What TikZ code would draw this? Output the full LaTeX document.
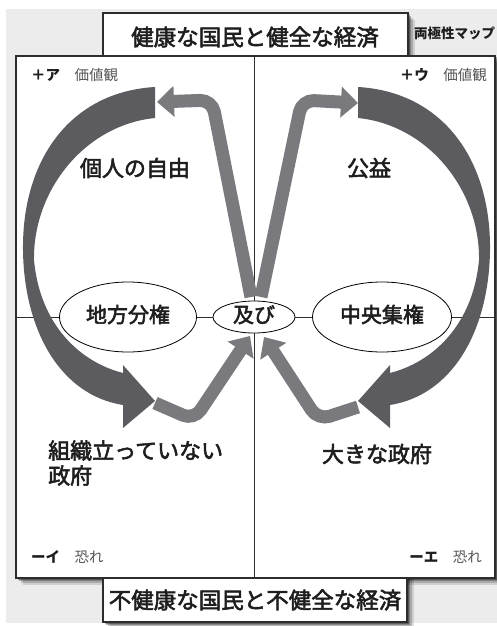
\documentclass[tikz,border=0pt]{standalone}
\usepackage{fontspec}
\newfontfamily\jp{Noto Sans CJK JP}
\newfontfamily\jpm[FakeBold=2.5]{Noto Sans CJK JP}
\usetikzlibrary{shapes.geometric,arrows.meta}
\definecolor{bggray}{RGB}{236,236,236}
\definecolor{cresc}{RGB}{92,92,96}
\definecolor{bentc}{RGB}{122,122,126}
\definecolor{labgray}{RGB}{85,85,85}
\definecolor{boxline}{RGB}{45,45,45}
\definecolor{txt}{RGB}{30,30,30}
\tikzset{
  crescent/.style={fill=cresc, draw=none},
  bent/.style={draw=bentc, line width=13pt, rounded corners=12pt, -{Triangle[length=17pt,width=30pt]}},
  oval/.style={draw=black, line width=0.8pt, ellipse, fill=white, inner sep=0pt, text height=15pt, text depth=4pt, text=txt},
  lbl/.style={font=\jpm\fontsize{22}{25}\selectfont, inner sep=0pt, text=txt},
  corner/.style={font=\jp\fontsize{14.5}{16}\selectfont, inner sep=0pt, text=txt},
  divider/.style={draw=boxline, line width=0.8pt},
  framebox/.style={draw=boxline, line width=1.1pt, fill=white, inner sep=0pt}
}
\begin{document}
\begin{tikzpicture}[x=1pt,y=-1pt]
\useasboundingbox (0,0) rectangle (497,626);
\clip (0,0) rectangle (497,626);
\fill[white] (0,0) rectangle (497,626);
\fill[bggray] (6,9) rectangle (497,623);
% shadows
\foreach \d/\o in {7/0.12,5/0.18,3/0.25,1.5/0.3}{
  \fill[black,opacity=\o] (103+\d,13+\d) rectangle (408+\d,56);
  \fill[black,opacity=\o] (16+\d,56+\d) rectangle (495+\d,578+\d);
  \fill[black,opacity=\o] (103+\d,578) rectangle (407+\d,622+\d);
}
% main frame and title boxes
\node[framebox, minimum width=305pt, minimum height=43pt] (topbox) at (255.5,34.5) {};
\node[framebox, minimum width=479pt, minimum height=522pt] (frame) at (255.5,317) {};
\node[framebox, minimum width=304pt, minimum height=44pt, font=\jpm\fontsize{22.5}{24}\selectfont, text=txt] (bottom) at (255,600) {不健康な国民と不健全な経済};
\node[font=\jpm\fontsize{22.5}{24}\selectfont, inner sep=0pt, text=txt] (title) at (255,37) {健康な国民と健全な経済};
\node[font=\jp\fontsize{13.5}{15}\selectfont\bfseries, anchor=west, inner sep=0pt, text=txt] (map) at (414,33) {両極性マップ};
% ellipses
\node[oval, minimum width=137pt, minimum height=70pt, font=\jpm\fontsize{21}{24}\selectfont] (chiho) at (128,317) {地方分権};
\node[oval, minimum width=82pt, minimum height=32pt, font=\jpm\fontsize{21}{24}\selectfont] (oyobi) at (254,317) {及び};
\node[oval, minimum width=139pt, minimum height=70pt, font=\jpm\fontsize{21}{24}\selectfont] (chuo) at (382,317) {中央集権};
% dividers
\draw[divider] (frame.west) -- (chiho.west);
\draw[divider] (chiho.east) -- (oyobi.west);
\draw[divider] (oyobi.east) -- (chuo.west);
\draw[divider] (chuo.east) -- (frame.east);
\draw[divider] (frame.north -| oyobi.north) -- (oyobi.north);
\draw[divider] (oyobi.south) -- (frame.south -| oyobi.south);
% crescent arrows
\fill[crescent] (155,87) .. controls (70,92) and (22,160) .. (23,250)
  .. controls (24,330) and (60,395) .. (123,405)
  -- (123,428) -- (155,401) -- (123,365) -- (123,373)
  .. controls (80,362) and (40,325) .. (34,260)
  .. controls (33,190) and (85,125) .. (155,118) -- cycle;
\begin{scope}[xshift=513pt, xscale=-1]
\fill[crescent] (155,87) .. controls (70,92) and (22,160) .. (23,250)
  .. controls (24,330) and (60,395) .. (123,405)
  -- (123,428) -- (155,401) -- (123,365) -- (123,373)
  .. controls (80,362) and (40,325) .. (34,260)
  .. controls (33,190) and (85,125) .. (155,118) -- cycle;
\end{scope}
% bent arrows
\coordinate (ulS) at (251,297); \coordinate (ulC) at (212,100); \coordinate (ulE) at (157,102);
\coordinate (urS) at (261,297); \coordinate (urC) at (302,100); \coordinate (urE) at (358,103);
\coordinate (llS) at (155,403); \coordinate (llC) at (194,420); \coordinate (llE) at (250,336);
\coordinate (lrS) at (358,407); \coordinate (lrC) at (318,420); \coordinate (lrE) at (264,337);
\draw[bent] (ulS) -- (ulC) -- (ulE);
\draw[bent] (urS) -- (urC) -- (urE);
\draw[bent] (llS) -- (llC) -- (llE);
\draw[bent] (lrS) -- (lrC) -- (lrE);
% labels
\node[lbl] (jiyu) at (135,168) {個人の自由};
\node[lbl] (koueki) at (369,168) {公益};
\node[lbl, anchor=west, align=left] (soshiki) at (48,463) {組織立っていない\\政府};
\node[lbl] (ookina) at (377,454) {大きな政府};
\node[corner, anchor=west] (pa) at (31,75) {{\bfseries ＋ア}　{\color{labgray}価値観}};
\node[corner, anchor=east] (pu) at (487,75) {{\bfseries ＋ウ}　{\color{labgray}価値観}};
\node[corner, anchor=west] (mi) at (31,557) {{\bfseries ーイ}　{\color{labgray}恐れ}};
\node[corner, anchor=east] (me) at (482,557) {{\bfseries ーエ}　{\color{labgray}恐れ}};
\end{tikzpicture}
\end{document}
